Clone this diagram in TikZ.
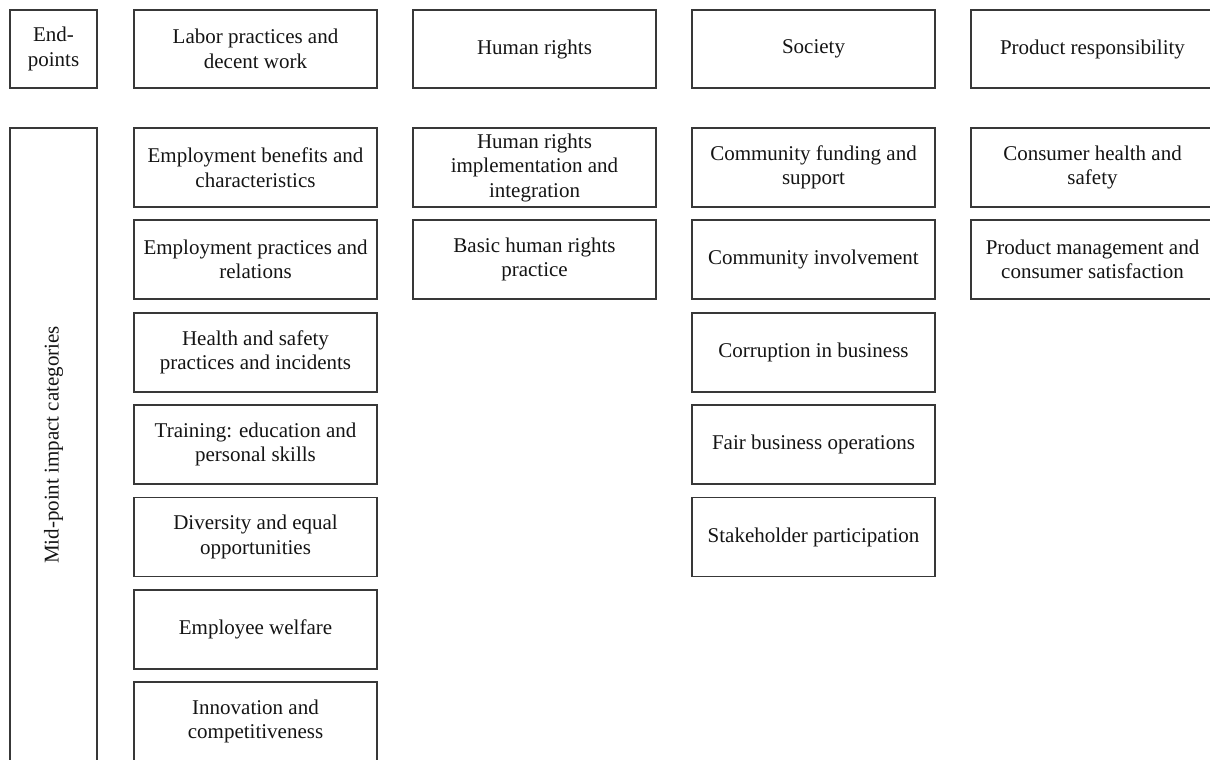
\documentclass[tikz,border=0pt]{standalone}
\usepackage{fontspec}
\setmainfont{Liberation Serif}
\begin{document}
\begin{tikzpicture}[x=1pt,y=-1pt,
  box/.style={draw=black!78, line width=1.1pt, rectangle, inner sep=0pt,
    minimum width=243pt, minimum height=79pt, align=center, text=black!92,
    font=\fontsize{21}{24.5}\selectfont},
  smallbox/.style={box, minimum width=87pt, minimum height=78pt}]
\useasboundingbox (0,0) rectangle (1210,760);
% top row (end-points)
\node[smallbox] (ep) at (53.5,49) {End-\\points};
\node[box, minimum height=78pt] (labor) at (255.5,49) {Labor practices and\\decent work};
\node[box, minimum height=78pt] (hr) at (534.5,49) {Human rights};
\node[box, minimum height=78pt] (soc) at (813.5,49) {Society};
\node[box, minimum height=78pt] (prod) at (1092.5,49) {Product responsibility};
% mid-point column header
\node[box, rotate=90, minimum width=634pt, minimum height=87pt] (mid) at (53.5,445) {Mid-point impact categories};
% labor column
\node[box] (l1) at (255.5,167.5) {Employment benefits and\\characteristics};
\node[box] (l2) at (255.5,259.5) {Employment practices and\\relations};
\node[box] (l3) at (255.5,352.5) {Health and safety\\practices and incidents};
\node[box] (l4) at (255.5,444.5) {Training: education and\\personal skills};
\node[box] (l5) at (255.5,537) {Diversity and equal\\opportunities};
\node[box] (l6) at (255.5,629.5) {Employee welfare};
\node[box] (l7) at (255.5,721.5) {Innovation and\\competitiveness};
% human rights column
\node[box] (h1) at (534.5,167.5) {Human rights\\implementation and\\integration};
\node[box] (h2) at (534.5,259.5) {Basic human rights\\practice};
% society column
\node[box] (s1) at (813.5,167.5) {Community funding and\\support};
\node[box] (s2) at (813.5,259.5) {Community involvement};
\node[box] (s3) at (813.5,352.5) {Corruption in business};
\node[box] (s4) at (813.5,444.5) {Fair business operations};
\node[box] (s5) at (813.5,537) {Stakeholder participation};
% product column
\node[box] (p1) at (1092.5,167.5) {Consumer health and\\safety};
\node[box] (p2) at (1092.5,259.5) {Product management and\\consumer satisfaction};
\end{tikzpicture}
\end{document}
